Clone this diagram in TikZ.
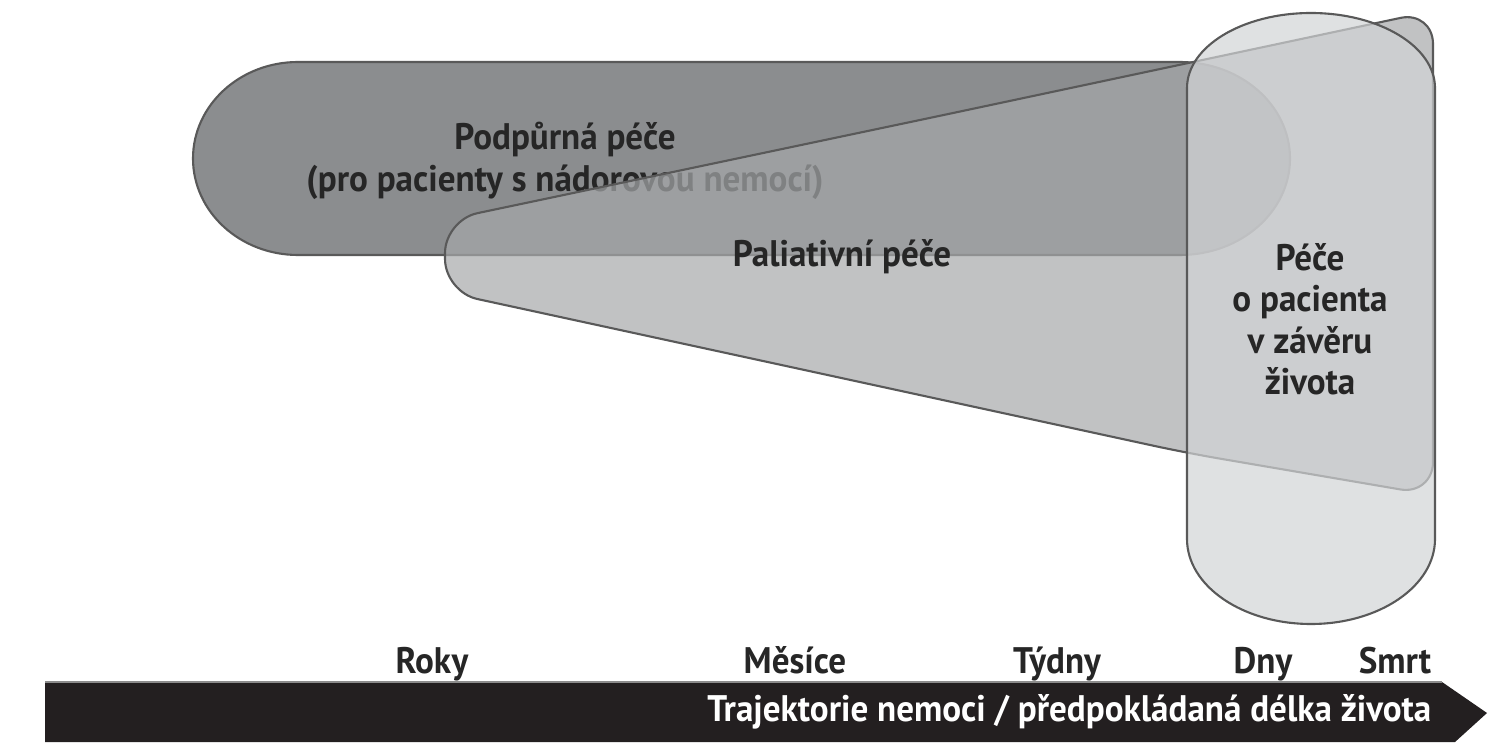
\documentclass[tikz,border=0pt]{standalone}
\usepackage{fontspec}
\setmainfont[FakeStretch=0.95]{PT Sans}
\definecolor{supportgray}{HTML}{8B8D8F}
\definecolor{palligray}{HTML}{A6A8AA}
\definecolor{endgray}{HTML}{D2D4D6}
\definecolor{axisblack}{HTML}{231F20}
\begin{document}
\begin{tikzpicture}[x=0.01cm,y=0.01cm]
	\tikzstyle{area}=[draw=black!65, line width=0.6pt]
	\tikzstyle{caption}=[font=\bfseries\fontsize{10.5}{11.8}\selectfont, text=black!85, align=center, inner sep=0pt]
	\tikzstyle{tick}=[font=\bfseries\fontsize{10.5}{12}\selectfont, text=black!85, inner sep=0pt, anchor=base]
	\useasboundingbox (0,0) rectangle (1488,742);
	% supportive care
	\filldraw[area, fill=supportgray] (298,680) -- (1180,680)
		arc[start angle=90, end angle=-90, x radius=110, y radius=96.5] -- (298,487)
		arc[start angle=-90, end angle=-270, x radius=105, y radius=96.5] -- cycle;
	\node[caption] (support) at (565,581) {Podpůrná péče\\(pro pacienty s nádorovou nemocí)};
	% palliative care
	\filldraw[area, fill=palligray, fill opacity=0.7, rounded corners=0.33cm]
		(939,626) -- (1433,731) -- (1433,247) -- (1187,289) -- (445,450) -- (445,522) -- cycle;
	\node[caption] (palliative) at (842,485) {Paliativní péče};
	% end of life care
	\filldraw[area, fill=endgray, fill opacity=0.7] (1187,203) -- (1187,654)
		arc[start angle=180, end angle=0, x radius=124, y radius=75] -- (1435,203)
		arc[start angle=0, end angle=-180, x radius=124, y radius=85] -- cycle;
	\node[caption] (endoflife) at (1310,423) {Péče\\o pacienta\\v závěru\\života};
	% time axis
	\fill[axisblack] (45,0) -- (45,60) -- (1442,60) -- (1487,29) -- (1455,0) -- cycle;
	\draw[black!45, line width=0.8pt] (45,60) -- (1442,60);
	\node[tick] (roky) at (432,69) {Roky};
	\node[tick] (mesice) at (795,69) {Měsíce};
	\node[tick] (tydny) at (1057,69) {Týdny};
	\node[tick] (dny) at (1263,69) {Dny};
	\node[tick] (smrt) at (1395,69) {Smrt};
	\node[tick, text=white, anchor=base east] (trajektorie) at (1432,21) {Trajektorie nemoci / předpokládaná délka života};
\end{tikzpicture}
\end{document}
